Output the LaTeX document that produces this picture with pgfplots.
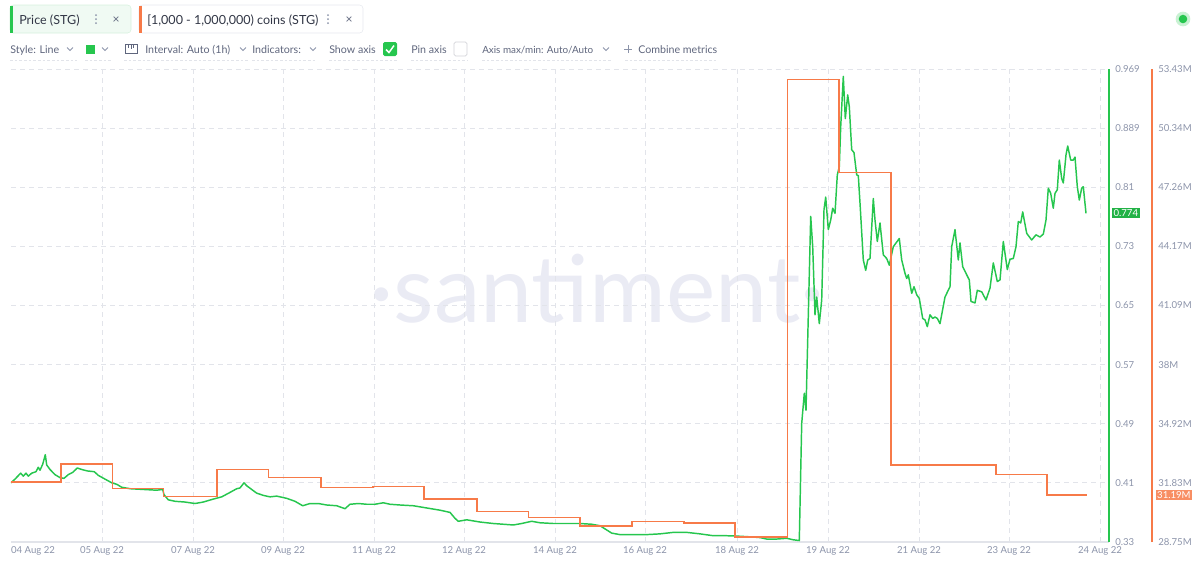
\documentclass[border=0pt]{standalone}
\usepackage{pgfplots}
\pgfplotsset{compat=1.18}
\usepackage{fontspec}
\setmainfont{Lato}
\definecolor{pricegreen}{RGB}{38,198,78}
\definecolor{coinorange}{RGB}{247,122,72}
\definecolor{gridc}{RGB}{226,228,234}
\definecolor{tickc}{RGB}{140,148,170}
\definecolor{chiptext}{RGB}{50,55,70}
\definecolor{toolc}{RGB}{95,102,125}
\definecolor{wmark}{RGB}{234,235,244}
\definecolor{chipg}{RGB}{240,250,243}
\definecolor{chipgb}{RGB}{214,240,221}
\definecolor{chipob}{RGB}{230,232,238}
\begin{document}
\begin{tikzpicture}[x=0.75pt,y=-0.75pt]
\useasboundingbox (0,0) rectangle (1200,562);
% watermark
\node[text=wmark, font=\fontsize{70}{70}\selectfont, anchor=base, inner sep=0pt] at (597,322) {·santiment·};
% chips
\draw[draw=chipgb, fill=chipg, rounded corners=2.5pt] (10,5) rectangle (131,33);
\fill[pricegreen] (10,5.5) rectangle (12.5,32.5);
\node[anchor=base west, inner sep=0pt, text=chiptext, font=\fontsize{9.4}{11}\selectfont] at (19,24) {Price (STG)};
\foreach \yy in {15,19,23} \fill[tickc] (96,\yy) circle[radius=0.75pt];
\node[anchor=base, inner sep=0pt, text=toolc, font=\fontsize{9}{11}\selectfont] at (116,23.5) {×};
\draw[draw=chipob, fill=white, rounded corners=2.5pt] (139,5) rectangle (363,33);
\fill[coinorange] (139,5.5) rectangle (141.5,32.5);
\node[anchor=base west, inner sep=0pt, text=chiptext, font=\fontsize{9.4}{11}\selectfont] at (147,24) {[1,000 - 1,000,000) coins (STG)};
\foreach \yy in {15,19,23} \fill[tickc] (328,\yy) circle[radius=0.75pt];
\node[anchor=base, inner sep=0pt, text=toolc, font=\fontsize{9}{11}\selectfont] at (349,23.5) {×};
% status dot
\fill[pricegreen!25] (1183,19) circle[radius=5.5pt];
\fill[pricegreen] (1183,19) circle[radius=3.2pt];
% toolbar row 2
\begin{scope}[every node/.style={anchor=base west, inner sep=0pt, text=toolc, font=\fontsize{8}{10}\selectfont}]
\node at (10,53) {Style: Line};
\node at (145,53) {Interval: Auto (1h)};
\node at (252,53) {Indicators:};
\node at (329,53) {Show axis};
\node at (411,53) {Pin axis};
\node[font=\fontsize{7.4}{9}\selectfont] at (482,53) {Axis max/min: Auto/Auto};
\node at (638,53) {Combine metrics};
\end{scope}
\begin{scope}[draw=tickc, line width=0.6pt]
\draw (67,47.5) -- (70,50.5) -- (73,47.5);
\draw (102,47.5) -- (105,50.5) -- (108,47.5);
\draw (240,47.5) -- (243,50.5) -- (246,47.5);
\draw (310,47.5) -- (313,50.5) -- (316,47.5);
\draw (603,47.5) -- (606,50.5) -- (609,47.5);
\draw (624,49) -- (632,49) (628,45) -- (628,53);
\end{scope}
\fill[pricegreen] (86,45) rectangle (95,53.5);
\draw[toolc, line width=0.7pt] (125,44) rectangle (137,53.5);
\draw[toolc, line width=0.6pt] (128.5,44) -- (128.5,47.5) (131,44) -- (131,48.5) (133.5,44) -- (133.5,47.5);
\fill[pricegreen, rounded corners=1.2pt] (383,42) rectangle (397,56);
\draw[white, line width=1.1pt] (386,49.5) -- (389,52.5) -- (394,45.5);
\draw[chipob!80!gray, line width=0.6pt, rounded corners=1.2pt] (454,42) rectangle (467,56);
\begin{scope}[draw=gridc, line width=0.6pt, dash pattern=on 2pt off 1.5pt]
\draw (10,60) -- (77,60);
\draw (85,60) -- (111,60);
\draw (124,60) -- (250,60);
\draw (252,60) -- (317,60);
\draw (329,60) -- (398,60);
\draw (411,60) -- (468,60);
\draw (482,60) -- (611,60);
\draw (625,60) -- (718,60);
\end{scope}
% price axis
\begin{axis}[
  at={(8.25pt,-406.5pt)}, anchor=south west,
  scale only axis, width=823.5pt, height=354.75pt,
  xmin=11, xmax=1109, ymin=0.33, ymax=0.969,
  axis x line*=bottom, axis y line*=right,
  axis line style={-},
  x axis line style={draw=gridc, line width=0.8pt},
  y axis line style={draw=pricegreen, line width=1pt},
  xtick={102,193,283,374,464,555,645,737,828,919,1009,1100},
  xticklabels={05 Aug 22,07 Aug 22,09 Aug 22,11 Aug 22,12 Aug 22,14 Aug 22,16 Aug 22,18 Aug 22,19 Aug 22,21 Aug 22,23 Aug 22,24 Aug 22},
  extra x ticks={33}, extra x tick labels={04 Aug 22},
  extra x tick style={grid=none},
  ytick={0.33,0.409875,0.48975,0.569625,0.6495,0.729375,0.80925,0.889125,0.969},
  yticklabels={0.33,0.41,0.49,0.57,0.65,0.73,0.81,0.889,0.969},
  major tick length=0pt,
  grid=major,
  major grid style={draw=gridc, line width=0.6pt, dash pattern=on 3.75pt off 3pt},
  /pgf/number format/assume math mode=true,
  tick label style={text=tickc, font=\fontsize{7.2}{8.5}\selectfont},
  xticklabel style={anchor=north, inner sep=0pt, yshift=-3pt},
  yticklabel style={anchor=west, inner sep=0pt, xshift=4.5pt},
  clip mode=individual,
]
\addplot[pricegreen, line width=1.1pt, line join=round] coordinates {
(11,0.410) (15,0.415) (20.7,0.423) (23.3,0.419) (26,0.423) (28.3,0.419) (31.7,0.423)
(36,0.425) (38.3,0.431) (40,0.427) (42.7,0.435) (45.3,0.448) (46.7,0.434) (50,0.428)
(55,0.421) (60,0.417) (64,0.416) (68.3,0.421) (72.7,0.424) (77.3,0.430) (81.7,0.428)
(87.3,0.426) (94.3,0.425) (98.3,0.420) (105,0.415) (111.7,0.410) (116.7,0.408)
(121.7,0.404) (130,0.402) (143.3,0.401) (156.7,0.400) (162.7,0.401) (164,0.394)
(168.3,0.387) (175,0.385) (185,0.384) (195,0.382) (203.3,0.384) (213.3,0.388)
(221.7,0.391) (230,0.397) (236.7,0.402) (240,0.403) (244,0.410) (246.7,0.406)
(251.7,0.401) (256.7,0.396) (263.3,0.393) (270,0.391) (276.7,0.392) (286.7,0.389)
(295,0.385) (302.7,0.379) (310,0.382) (318.3,0.382) (326.7,0.380) (336.7,0.379)
(345,0.375) (350,0.381) (358.3,0.382) (366.7,0.381) (375,0.381) (383.3,0.383)
(390,0.381) (400,0.380) (413.3,0.379) (426.7,0.376) (440,0.373) (450,0.370)
(455,0.362) (458.3,0.358) (466.7,0.360) (480,0.357) (493.3,0.355) (503.3,0.354)
(513.3,0.353) (521.7,0.355) (531.7,0.358) (540,0.356) (553.3,0.355) (566.7,0.355)
(580,0.355) (591.7,0.354) (600,0.352) (611.7,0.342) (620,0.340) (633.3,0.340)
(646.7,0.340) (660,0.341) (673.3,0.343) (686.7,0.343) (700,0.341) (713.3,0.3385)
(726.7,0.3385) (736.7,0.338) (750,0.337) (760,0.336) (766.7,0.334) (776.7,0.334)
(786.7,0.335) (793.3,0.333) (799.3,0.332) (801.7,0.490) (804.3,0.531) (806,0.508)
(810.7,0.770) (812.7,0.729) (815,0.637) (816.7,0.661) (819.3,0.625) (821.7,0.657)
(824,0.779) (825.7,0.796) (828.3,0.752) (830.7,0.765) (832.7,0.781) (835,0.774)
(837.3,0.826) (839.3,0.837) (840.7,0.891) (843.3,0.959) (845.3,0.902) (847.7,0.934)
(849.3,0.918) (851.7,0.860) (854,0.856) (856.7,0.826) (858.3,0.825) (860,0.788)
(863.3,0.711) (865.7,0.697) (867.7,0.711) (870,0.713) (873.3,0.794) (875,0.765)
(877.3,0.736) (880,0.761) (883.3,0.718) (886.7,0.713) (889.3,0.704) (893.3,0.729)
(899.3,0.740) (901.7,0.711) (905,0.693) (906.7,0.686) (908.3,0.691) (911.7,0.666)
(914,0.675) (916.7,0.664) (919.3,0.659) (922.7,0.632) (925,0.630) (927.3,0.621)
(930,0.637) (932.7,0.632) (935,0.634) (937.3,0.632) (940,0.625) (945,0.661)
(950,0.675) (951.7,0.729) (955,0.752) (958.3,0.711) (960,0.734) (962.7,0.702)
(966.7,0.691) (969.3,0.684) (971,0.655) (975,0.653) (977.3,0.670) (981.7,0.668)
(986,0.657) (990,0.673) (993.3,0.707) (997.3,0.682) (1000,0.684) (1003.3,0.736)
(1007.3,0.698) (1010,0.712) (1013.3,0.713) (1016,0.729) (1018.3,0.763) (1020.7,0.761)
(1022.7,0.776) (1026.7,0.747) (1031.7,0.738) (1036,0.745) (1040,0.742) (1043.3,0.746)
(1046,0.765) (1048.3,0.808) (1050.7,0.801) (1053.3,0.781) (1055,0.801) (1057.3,0.806)
(1059.3,0.846) (1061.7,0.821) (1063.3,0.815) (1066,0.853) (1067.7,0.865) (1070.7,0.846)
(1073.3,0.846) (1075,0.850) (1077.3,0.810) (1079.3,0.792) (1081.7,0.808) (1083.3,0.810)
(1086,0.774)
};
\node[fill=pricegreen!90!black, text=white, anchor=west, inner sep=1.2pt, xshift=2pt,
  font=\fontsize{7.2}{8.5}\selectfont] at (axis cs:1109,0.774) {0.774};
\end{axis}
% coins axis
\begin{axis}[
  at={(8.25pt,-406.5pt)}, anchor=south west,
  scale only axis, width=855.75pt, height=354.75pt,
  xmin=11, xmax=1152, ymin=28.75, ymax=53.43,
  axis x line=none, axis y line*=right,
  axis line style={-},
  y axis line style={draw=coinorange, line width=1pt},
  ytick={28.75,31.835,34.92,38.005,41.09,44.175,47.26,50.345,53.43},
  yticklabels={28.75M,31.83M,34.92M,38M,41.09M,44.17M,47.26M,50.34M,53.43M},
  major tick length=0pt,
  /pgf/number format/assume math mode=true,
  tick label style={text=tickc, font=\fontsize{7.2}{8.5}\selectfont},
  yticklabel style={anchor=west, inner sep=0pt, xshift=4.5pt},
  clip mode=individual,
]
\addplot[const plot, coinorange, line width=1.2pt] coordinates {
(11,31.87) (60.7,32.82) (112.3,31.55) (163.3,31.13) (216.7,32.54) (268.3,32.11)
(321,31.60) (373,31.64) (424,30.98) (476.7,30.35) (528.3,30.02) (580,29.60)
(631.7,29.83) (684,29.73) (735,29.00) (787.5,52.89) (839,48.04) (891,32.77)
(996,32.28) (1046.7,31.19) (1087.3,31.19)
};
\node[fill=coinorange!85!white, text=white, anchor=west, inner sep=1.2pt, xshift=2.5pt,
  font=\fontsize{7.2}{8.5}\selectfont] at (axis cs:1152,31.19) {31.19M};
\end{axis}
\end{tikzpicture}
\end{document}
